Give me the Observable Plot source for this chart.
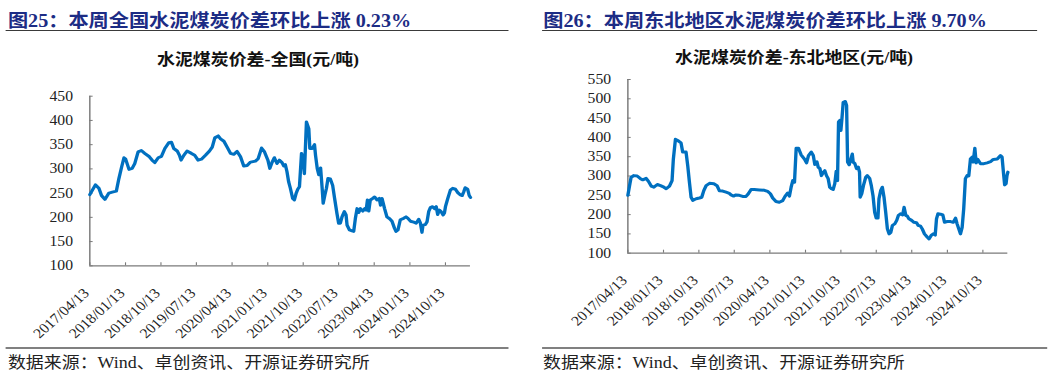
<!DOCTYPE html>
<html>
<head>
<meta charset="utf-8">
<script src="https://cdn.jsdelivr.net/npm/d3@7"></script>
<script src="https://cdn.jsdelivr.net/npm/@observablehq/plot@0.6"></script>
<style>
html, body { margin: 0; padding: 0; background: #fff; width: 1057px; height: 379px; overflow: hidden; }
#wrap { position: relative; width: 943.75px; height: 379px; transform: scaleX(1.12); transform-origin: 0 0; }
.t { position: absolute; white-space: nowrap; line-height: 1; }
.title { font: bold 18px "Liberation Serif", "Noto Sans CJK SC"; color: #1c2c85; top: 6px; }
.sub { font: bold 16px "Liberation Serif", "Noto Sans CJK SC"; color: #111; transform: translateX(-50%); }
.src { font: 16px "Liberation Serif", "Noto Sans CJK SC"; color: #222; top: 349px; }
.rule { position: absolute; height: 0; }
.rtop { border-top: 1.3px solid #3a3a3a; top: 30px; }
.rbot { border-top: 2px solid #808080; top: 347px; }
.chart { position: absolute; }
</style>
</head>
<body>
<div id="wrap"></div>
<script>
// ---------------- data ----------------
const titles = ["图25：本周全国水泥煤炭价差环比上涨 0.23%", "图26：本周东北地区水泥煤炭价差环比上涨 9.70%"];
const subtitles = ["水泥煤炭价差-全国(元/吨)", "水泥煤炭价差-东北地区(元/吨)"];
const sourceText = "数据来源：Wind、卓创资讯、开源证券研究所";

const xTickDates = ["2017-04-13","2018-01-13","2018-10-13","2019-07-13","2020-04-13","2021-01-13","2021-10-13","2022-07-13","2023-04-13","2024-01-13","2024-10-13"];
const xStart = "2017-04-13";
const xEnd = "2025-04-24";

const yTicksNational = [100,150,200,250,300,350,400,450];
const yTicksNortheast = [100,150,200,250,300,350,400,450,500,550];

const nationalDates = ["2017-04-13","2017-05-26","2017-06-22","2017-07-12","2017-08-07","2017-09-07","2017-10-03","2017-11-03","2017-11-23","2017-12-14","2018-01-01","2018-01-14","2018-02-09","2018-03-05","2018-03-25","2018-04-20","2018-05-15","2018-06-10","2018-07-16","2018-08-06","2018-08-26","2018-09-22","2018-10-17","2018-11-12","2018-12-12","2019-01-02","2019-01-20","2019-02-15","2019-03-05","2019-03-17","2019-04-07","2019-05-02","2019-06-05","2019-06-30","2019-07-26","2019-08-21","2019-09-21","2019-10-22","2019-11-12","2019-12-02","2019-12-28","2020-01-15","2020-02-10","2020-03-06","2020-04-01","2020-04-26","2020-05-22","2020-06-17","2020-07-12","2020-08-07","2020-09-02","2020-10-10","2020-10-31","2020-11-26","2020-12-19","2021-01-14","2021-01-29","2021-02-16","2021-03-05","2021-03-25","2021-04-12","2021-05-03","2021-05-16","2021-05-28","2021-06-10","2021-06-23","2021-07-06","2021-07-24","2021-08-06","2021-08-19","2021-09-01","2021-09-14","2021-09-30","2021-10-12","2021-10-22","2021-11-07","2021-11-25","2021-12-03","2021-12-21","2022-01-08","2022-01-16","2022-01-29","2022-02-10","2022-02-24","2022-03-08","2022-03-16","2022-03-29","2022-04-10","2022-04-22","2022-05-10","2022-05-28","2022-06-12","2022-06-30","2022-07-13","2022-07-26","2022-08-08","2022-08-26","2022-09-08","2022-09-16","2022-10-04","2022-10-24","2022-11-06","2022-11-19","2022-12-02","2022-12-15","2022-12-28","2023-01-15","2023-01-30","2023-02-10","2023-02-20","2023-03-02","2023-03-14","2023-04-01","2023-04-16","2023-05-04","2023-05-22","2023-06-01","2023-06-12","2023-07-02","2023-07-20","2023-08-10","2023-08-28","2023-09-17","2023-09-28","2023-10-13","2023-10-31","2023-11-26","2023-12-14","2023-12-29","2024-01-17","2024-02-12","2024-03-01","2024-03-21","2024-04-03","2024-04-15","2024-04-23","2024-05-11","2024-05-24","2024-06-06","2024-06-19","2024-07-06","2024-07-22","2024-08-03","2024-08-14","2024-08-27","2024-09-09","2024-09-25","2024-10-05","2024-10-13","2024-10-31","2024-11-20","2024-12-08","2024-12-29","2025-01-16","2025-02-01","2025-02-19","2025-03-03","2025-03-14","2025-04-02","2025-04-14","2025-04-24"];
const nationalValues = [247,267,260,245,237,250,252,254,280,304,323,320,299,301,311,335,338,332,325,318,313,323,326,342,354,355,342,337,328,318,328,337,332,328,318,320,328,337,345,364,368,362,357,345,332,330,336,325,306,307,314,316,321,343,335,318,301,314,323,311,318,313,306,309,294,273,260,239,236,249,258,263,332,321,290,397,383,342,342,350,328,301,288,302,260,229,246,260,280,279,266,239,208,188,188,201,212,205,184,174,172,171,198,218,210,218,213,218,215,236,213,236,239,242,236,239,225,239,218,201,197,192,177,171,174,195,198,201,198,192,190,188,196,188,169,184,185,191,212,220,222,218,222,206,215,212,205,209,222,239,256,260,258,251,247,245,253,261,258,245,241];

const northeastDates = ["2017-04-13","2017-04-26","2017-05-08","2017-05-29","2017-06-24","2017-07-19","2017-08-06","2017-09-01","2017-09-19","2017-10-10","2017-10-31","2017-11-26","2017-12-21","2018-01-16","2018-02-03","2018-02-28","2018-03-20","2018-03-30","2018-04-15","2018-05-03","2018-05-28","2018-06-10","2018-07-06","2018-07-19","2018-08-01","2018-08-14","2018-08-27","2018-09-22","2018-10-17","2018-11-04","2018-11-20","2018-12-08","2019-01-03","2019-02-06","2019-03-02","2019-03-20","2019-04-15","2019-05-11","2019-06-05","2019-06-18","2019-07-08","2019-07-26","2019-08-21","2019-09-16","2019-10-12","2019-10-30","2019-11-20","2019-12-15","2020-01-23","2020-03-02","2020-03-27","2020-04-17","2020-05-05","2020-05-30","2020-06-25","2020-07-21","2020-08-08","2020-08-29","2020-09-11","2020-09-24","2020-10-07","2020-10-20","2020-11-02","2020-11-20","2020-12-10","2021-01-05","2021-01-21","2021-02-05","2021-02-26","2021-03-14","2021-03-26","2021-04-11","2021-04-21","2021-05-04","2021-05-16","2021-06-01","2021-06-11","2021-06-24","2021-07-07","2021-07-19","2021-08-01","2021-08-14","2021-08-27","2021-09-07","2021-09-17","2021-09-25","2021-10-05","2021-10-13","2021-10-21","2021-10-31","2021-11-16","2021-11-26","2021-12-04","2021-12-16","2021-12-29","2022-01-09","2022-01-16","2022-01-29","2022-02-11","2022-02-24","2022-03-06","2022-03-11","2022-03-23","2022-04-05","2022-04-23","2022-05-05","2022-05-23","2022-06-05","2022-06-18","2022-07-01","2022-07-13","2022-07-26","2022-08-03","2022-08-16","2022-08-29","2022-09-11","2022-09-24","2022-10-07","2022-10-20","2022-11-02","2022-11-15","2022-12-03","2022-12-18","2022-12-31","2023-01-18","2023-02-02","2023-02-13","2023-02-26","2023-03-10","2023-03-22","2023-04-12","2023-04-30","2023-05-20","2023-06-02","2023-06-20","2023-07-03","2023-07-20","2023-08-10","2023-08-25","2023-09-10","2023-09-26","2023-10-11","2023-10-21","2023-11-01","2023-11-21","2023-12-09","2023-12-22","2024-01-12","2024-02-07","2024-02-27","2024-03-16","2024-03-28","2024-04-10","2024-04-23","2024-05-06","2024-05-18","2024-05-31","2024-06-13","2024-06-26","2024-07-09","2024-07-22","2024-07-30","2024-08-12","2024-08-22","2024-09-04","2024-09-25","2024-10-21","2024-11-15","2024-12-11","2025-01-01","2025-02-01","2025-02-26","2025-03-10","2025-03-23","2025-03-30","2025-04-10","2025-04-17","2025-04-24"];
const northeastValues = [250,275,297,301,300,293,290,294,286,274,271,278,275,271,267,274,288,344,395,392,386,362,362,327,284,245,237,241,243,245,262,275,281,280,275,262,261,258,255,251,248,251,250,247,247,254,265,265,264,263,260,254,243,234,232,236,247,256,248,271,288,284,372,372,355,344,334,353,362,353,330,337,323,319,301,310,314,301,293,271,267,265,280,312,288,440,444,418,448,491,493,483,336,329,344,357,336,332,319,323,310,245,254,275,297,301,294,275,249,206,191,191,241,262,271,245,206,163,150,154,172,176,185,198,202,199,219,198,196,189,185,180,179,172,170,163,150,142,137,146,150,147,189,202,201,199,180,182,182,180,191,176,163,150,167,215,293,301,300,344,349,336,372,334,343,332,332,334,337,343,344,353,349,301,277,280,301,310];

// ---------------- drawing ----------------
const parse = d3.utcParse("%Y-%m-%d");
const fmt = d3.utcFormat("%Y/%m/%d");
const axisColor = "#7a7a7a";
const lineColor = "#0070C0";
const wrap = document.getElementById("wrap");

function addText(cls, text, left, top) {
  const d = document.createElement("div");
  d.className = "t " + cls;
  d.textContent = text;
  d.style.left = left + "px";
  if (top != null) d.style.top = top + "px";
  wrap.appendChild(d);
}
function addRule(cls, left, width) {
  const d = document.createElement("div");
  d.className = "rule " + cls;
  d.style.left = left + "px";
  d.style.width = width + "px";
  wrap.appendChild(d);
}

function makeChart(dates, values, yTicks, cfg) {
  const data = dates.map((d, i) => ({date: parse(d), value: values[i]}));
  const xt = xTickDates.map(parse);
  const plotW = cfg.width - cfg.marginLeft - cfg.marginRight;
  const plotH = cfg.height - cfg.marginTop - cfg.marginBottom;
  const svg = Plot.plot({
    width: cfg.width, height: cfg.height,
    marginLeft: cfg.marginLeft, marginRight: cfg.marginRight,
    marginTop: cfg.marginTop, marginBottom: cfg.marginBottom,
    style: {fontFamily: "'Liberation Serif', serif", fontSize: "14px", color: "#222", background: "transparent", overflow: "visible"},
    x: {type: "utc", domain: [parse(xStart), parse(xEnd)], axis: null},
    y: {domain: [yTicks[0], yTicks[yTicks.length - 1]], axis: null},
    marks: [
      Plot.axisY(yTicks, {tickSize: 0, tickPadding: 15, label: null, fill: "#222"}),
      Plot.axisX(xt, {tickSize: 0, tickPadding: 25, dx: -3, tickRotate: -45, tickFormat: fmt, label: null, fill: "#222"}),
      Plot.ruleX([parse(xStart)], {stroke: axisColor, strokeWidth: 1.3}),
      Plot.ruleY([yTicks[0]], {stroke: axisColor, strokeWidth: 1.3}),
      Plot.tickY(yTicks, {y: d => d, stroke: axisColor, insetRight: plotW - 3}),
      Plot.tickX(xt, {x: d => d, stroke: axisColor, insetTop: plotH - 3}),
      Plot.line(data, {x: "date", y: "value", stroke: lineColor, strokeWidth: 3, strokeLinejoin: "round", strokeLinecap: "round"})
    ]
  });
  const holder = document.createElement("div");
  holder.className = "chart";
  holder.style.left = cfg.left + "px";
  holder.style.top = cfg.top + "px";
  holder.appendChild(svg);
  wrap.appendChild(holder);
}

// left panel
addText("title", titles[0], 7.1);
addRule("rtop", 5.4, 448.2);
addText("sub", subtitles[0], 230.4, 46);
makeChart(nationalDates, nationalValues, yTicksNational,
  {left: 0, top: 72, width: 470, height: 270, marginLeft: 79.7, marginRight: 50.4, marginTop: 23.7, marginBottom: 76.7});
addRule("rbot", 4.5, 449.1);
addText("src", sourceText, 7.1);

// right panel
addText("title", titles[1], 485.1);
addRule("rtop", 483.7, 441.9);
addText("sub", subtitles[1], 709, 44);
makeChart(northeastDates, northeastValues, yTicksNortheast,
  {left: 472, top: 60, width: 471, height: 282, marginLeft: 88.1, marginRight: 43.6, marginTop: 19, marginBottom: 89.3});
addRule("rbot", 483.7, 450.9);
addText("src", sourceText, 484.8);
</script>
</body>
</html>
